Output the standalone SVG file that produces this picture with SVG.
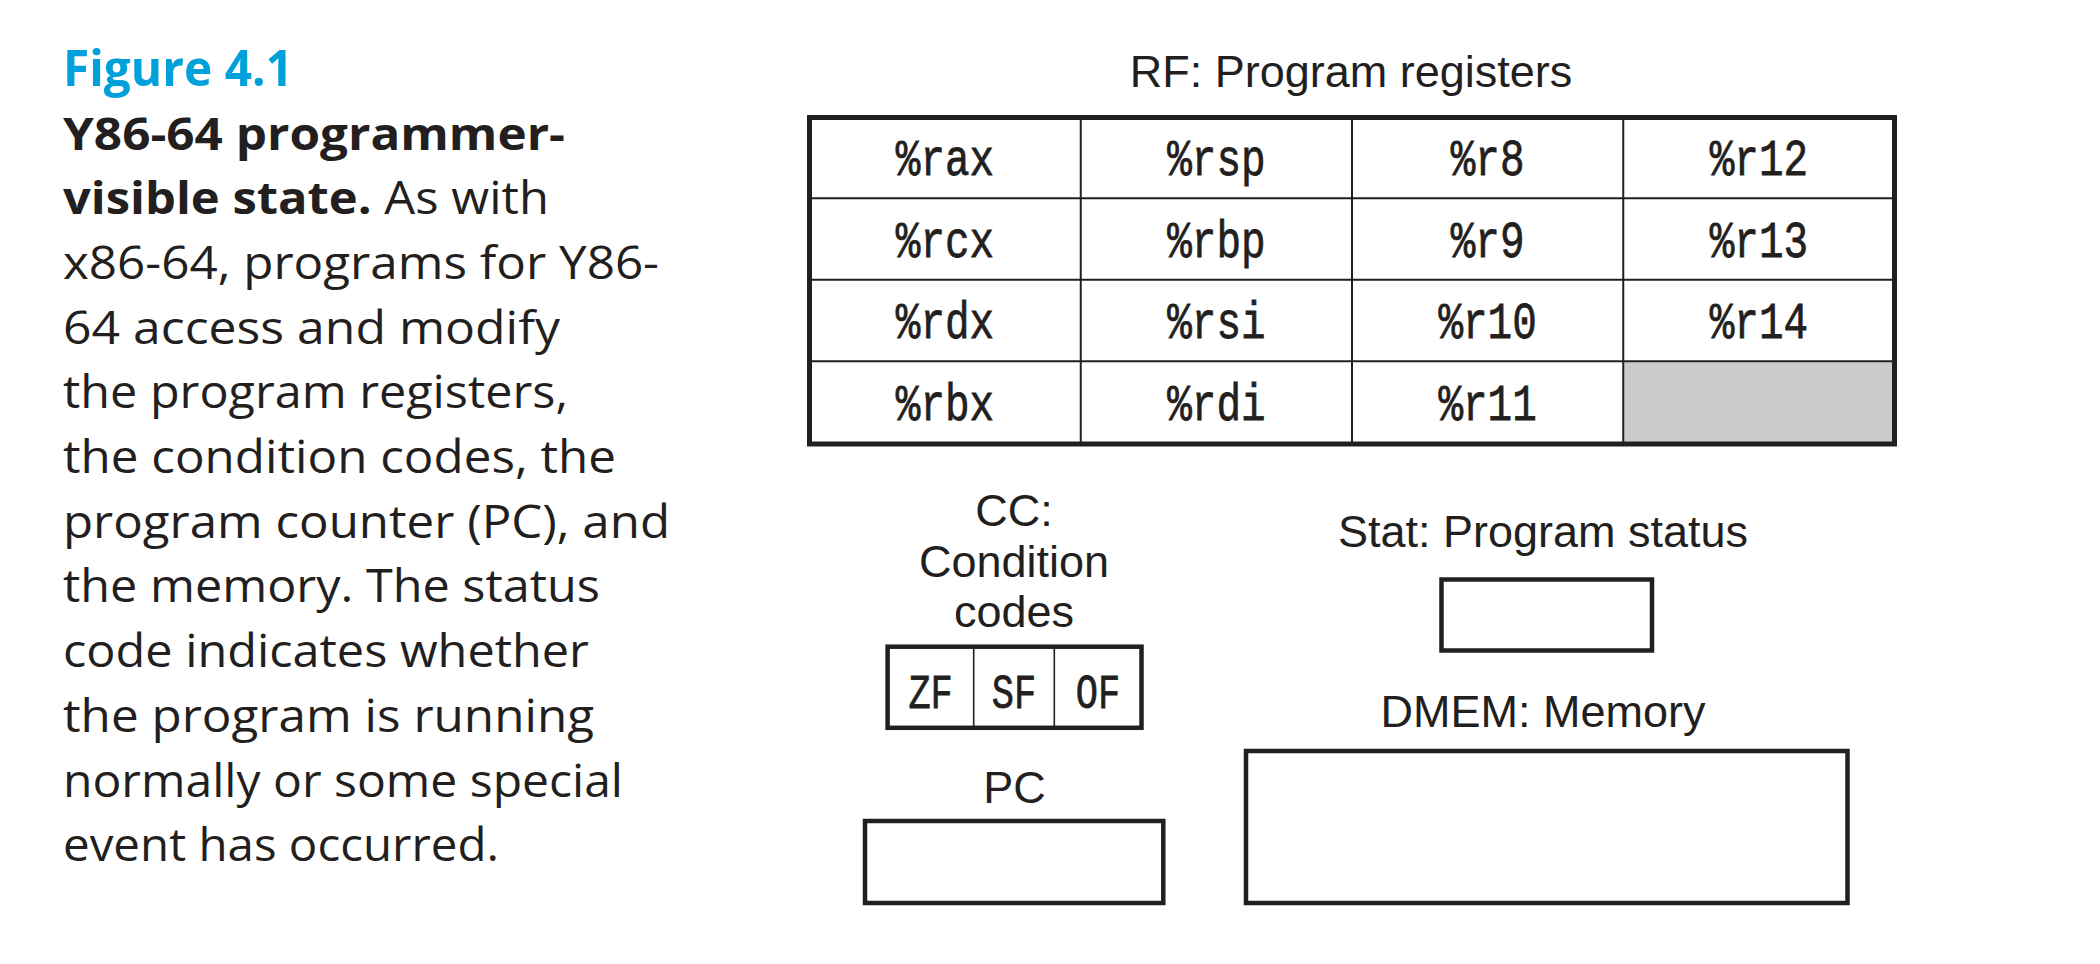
<svg xmlns="http://www.w3.org/2000/svg" width="2100" height="964" viewBox="0 0 2100 964">
<style>
  .cap { font-family: "Open Sans", "Noto Sans", sans-serif; font-size: 45px; fill: #231f20; }
  .b { font-weight: 700; }
  .fig { font-family: "Open Sans", "Noto Sans", sans-serif; font-size: 50px; font-weight: 700; fill: #00a0da; }
  .lbl { font-family: "Liberation Sans", Arial, sans-serif; font-size: 45px; fill: #231f20; text-anchor: middle; }
  .reg { font-family: "Liberation Mono", "Courier New", monospace; font-size: 41px; fill: #231f20; stroke: #231f20; stroke-width: 0.6; text-anchor: middle; }
  .flag { font-family: "Liberation Mono", "Courier New", monospace; font-size: 37px; fill: #231f20; stroke: #231f20; stroke-width: 0.6; text-anchor: middle; }
  .box { fill: #ffffff; stroke: #231f20; stroke-width: 4.5; }
  .grid { stroke: #231f20; stroke-width: 2; fill: none; }
  .thin { stroke: #231f20; stroke-width: 1.6; fill: none; }
</style>
<rect width="2100" height="964" fill="#ffffff"/>

<g id="caption">
  <text class="fig" x="63" y="86" textLength="230" lengthAdjust="spacingAndGlyphs">Figure 4.1</text>
  <text class="cap b" x="63" y="149.5" textLength="502" lengthAdjust="spacingAndGlyphs">Y86-64 programmer-</text>
  <text class="cap" x="63" y="214.2" textLength="486" lengthAdjust="spacingAndGlyphs"><tspan class="b">visible state.</tspan> As with</text>
  <text class="cap" x="63" y="278.9" textLength="596" lengthAdjust="spacingAndGlyphs">x86-64, programs for Y86-</text>
  <text class="cap" x="63" y="343.6" textLength="497" lengthAdjust="spacingAndGlyphs">64 access and modify</text>
  <text class="cap" x="63" y="408.3" textLength="505" lengthAdjust="spacingAndGlyphs">the program registers,</text>
  <text class="cap" x="63" y="473" textLength="553" lengthAdjust="spacingAndGlyphs">the condition codes, the</text>
  <text class="cap" x="63" y="537.7" textLength="607" lengthAdjust="spacingAndGlyphs">program counter (PC), and</text>
  <text class="cap" x="63" y="602.4" textLength="537" lengthAdjust="spacingAndGlyphs">the memory. The status</text>
  <text class="cap" x="63" y="667.1" textLength="526" lengthAdjust="spacingAndGlyphs">code indicates whether</text>
  <text class="cap" x="63" y="731.8" textLength="531" lengthAdjust="spacingAndGlyphs">the program is running</text>
  <text class="cap" x="63" y="796.5" textLength="560" lengthAdjust="spacingAndGlyphs">normally or some special</text>
  <text class="cap" x="63" y="861.2" textLength="436" lengthAdjust="spacingAndGlyphs">event has occurred.</text>
</g>

<g id="rf">
  <text class="lbl" x="1351" y="87">RF: Program registers</text>
  <rect x="809.5" y="117.5" width="1085" height="326.5" fill="#ffffff"/>
  <rect x="1623" y="361" width="271.5" height="83" fill="#cbcbcb"/>
  <line class="grid" x1="1080.75" y1="117.5" x2="1080.75" y2="444"/>
  <line class="grid" x1="1352" y1="117.5" x2="1352" y2="444"/>
  <line class="grid" x1="1623.25" y1="117.5" x2="1623.25" y2="444"/>
  <line class="grid" x1="809.5" y1="198.3" x2="1894.5" y2="198.3"/>
  <line class="grid" x1="809.5" y1="279.8" x2="1894.5" y2="279.8"/>
  <line class="grid" x1="809.5" y1="361.3" x2="1894.5" y2="361.3"/>
  <rect x="809.5" y="117.5" width="1085" height="326.5" fill="none" stroke="#231f20" stroke-width="5"/>
  <text class="reg" transform="translate(945,175) scale(1,1.27)">%rax</text>
  <text class="reg" transform="translate(1216.4,175) scale(1,1.27)">%rsp</text>
  <text class="reg" transform="translate(1487.6,175) scale(1,1.27)">%r8</text>
  <text class="reg" transform="translate(1758.9,175) scale(1,1.27)">%r12</text>
  <text class="reg" transform="translate(945,256.5) scale(1,1.27)">%rcx</text>
  <text class="reg" transform="translate(1216.4,256.5) scale(1,1.27)">%rbp</text>
  <text class="reg" transform="translate(1487.6,256.5) scale(1,1.27)">%r9</text>
  <text class="reg" transform="translate(1758.9,256.5) scale(1,1.27)">%r13</text>
  <text class="reg" transform="translate(945,338) scale(1,1.27)">%rdx</text>
  <text class="reg" transform="translate(1216.4,338) scale(1,1.27)">%rsi</text>
  <text class="reg" transform="translate(1487.6,338) scale(1,1.27)">%r10</text>
  <text class="reg" transform="translate(1758.9,338) scale(1,1.27)">%r14</text>
  <text class="reg" transform="translate(945,419.5) scale(1,1.27)">%rbx</text>
  <text class="reg" transform="translate(1216.4,419.5) scale(1,1.27)">%rdi</text>
  <text class="reg" transform="translate(1487.6,419.5) scale(1,1.27)">%r11</text>
</g>

<g id="cc">
  <text class="lbl" x="1014" y="525.7">CC:</text>
  <text class="lbl" x="1014" y="576.7">Condition</text>
  <text class="lbl" x="1014" y="626.7">codes</text>
  <rect class="box" x="887.6" y="646.7" width="253.9" height="81.1"/>
  <line class="thin" x1="973.7" y1="646.7" x2="973.7" y2="727.8"/>
  <line class="thin" x1="1054.3" y1="646.7" x2="1054.3" y2="727.8"/>
  <text class="flag" transform="translate(930.6,708.3) scale(1,1.3)">ZF</text>
  <text class="flag" transform="translate(1014,708.3) scale(1,1.3)">SF</text>
  <text class="flag" transform="translate(1097.9,708.3) scale(1,1.3)">OF</text>
</g>

<g id="pc">
  <text class="lbl" x="1014.5" y="802.7">PC</text>
  <rect class="box" x="865" y="821" width="298.3" height="82"/>
</g>

<g id="stat">
  <text class="lbl" x="1543" y="547">Stat: Program status</text>
  <rect class="box" x="1441.5" y="579.5" width="210.5" height="71"/>
</g>

<g id="dmem">
  <text class="lbl" x="1543" y="726.7">DMEM: Memory</text>
  <rect class="box" x="1246" y="751" width="601.5" height="152"/>
</g>

<g id="connectors"/>
</svg>
